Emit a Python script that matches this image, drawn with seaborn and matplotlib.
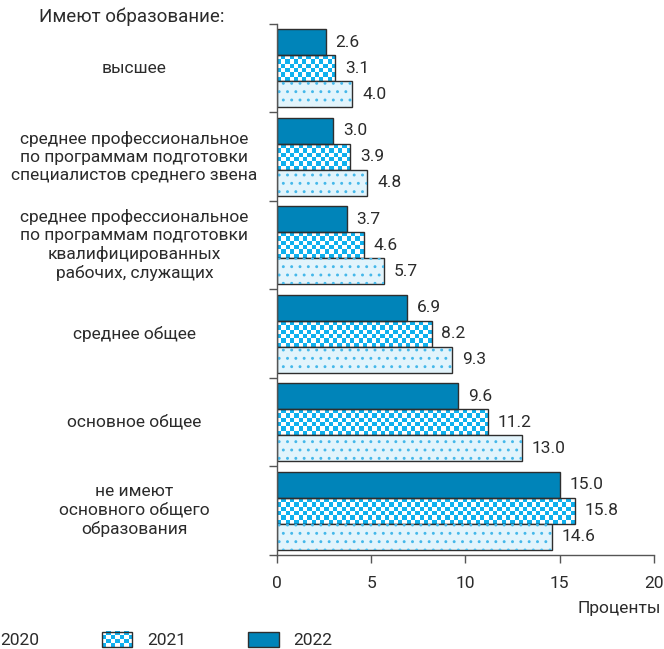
"""
Безработные по уровню образования, 2020-2022 (проценты).
"""

import matplotlib

matplotlib.use("Agg")

import matplotlib.pyplot as plt
import numpy as np
import pandas as pd
import seaborn as sns
from matplotlib.colors import ListedColormap, Normalize
from matplotlib.image import BboxImage
from matplotlib.legend_handler import HandlerBase
from matplotlib.patches import Rectangle
from matplotlib.transforms import Bbox, TransformedBbox


CATEGORIES = [
    "высшее",
    "среднее профессиональное\nпо программам подготовки\nспециалистов среднего звена",
    "среднее профессиональное\nпо программам подготовки\nквалифицированных\nрабочих, служащих",
    "среднее общее",
    "основное общее",
    "не имеют\nосновного общего\nобразования",
]
YEARS = ["2020", "2021", "2022"]
VALUES_2020 = [4.0, 4.8, 5.7, 9.3, 13.0, 14.6]
VALUES_2021 = [3.1, 3.9, 4.6, 8.2, 11.2, 15.8]
VALUES_2022 = [2.6, 3.0, 3.7, 6.9, 9.6, 15.0]
X_TICKS = [0, 5, 10, 15, 20]

DARK_BLUE = "#0084b9"
CHECK_BLUE = "#0fb0ee"
LIGHT_FILL = "#e2f4fc"
DOT_BLUE = "#45b8ea"
EDGE = "#2e2e2e"
TEXT = "#2b2b2b"
AXIS = "#555555"
FONT = ["Roboto", "DejaVu Sans"]
SIZE = 12.5

checker_cmap = ListedColormap(["white", CHECK_BLUE])


def checker(ny, nx):
    return np.indices((ny, nx)).sum(axis=0) % 2


class CheckerHandler(HandlerBase):
    def create_artists(self, legend, orig_handle, xdescent, ydescent, width, height, fontsize, trans):
        box = TransformedBbox(Bbox.from_bounds(-xdescent, -ydescent, width, height), trans)
        img = BboxImage(box, cmap=checker_cmap, norm=Normalize(0, 1), interpolation="nearest")
        img.set_data(checker(4, 7))
        outline = Rectangle((-xdescent, -ydescent), width, height, fc="none", ec=EDGE, lw=1, transform=trans)
        return [img, outline]


class DottedHandler(HandlerBase):
    def create_artists(self, legend, orig_handle, xdescent, ydescent, width, height, fontsize, trans):
        base = Rectangle((-xdescent, -ydescent), width, height, fc=LIGHT_FILL, ec=EDGE, lw=1, transform=trans)
        dots = Rectangle((-xdescent, -ydescent), width, height, fc="none", ec=DOT_BLUE, lw=0, hatch="..", transform=trans)
        return [base, dots]


def build_frame() -> pd.DataFrame:
    rows = []
    for year, values in zip(YEARS, [VALUES_2020, VALUES_2021, VALUES_2022]):
        for category, value in zip(CATEGORIES, values):
            rows.append({"category": category, "year": year, "value": value})
    return pd.DataFrame(rows)


def main() -> None:
    sns.set_style("white")
    plt.rcParams["font.family"] = FONT
    plt.rcParams["hatch.linewidth"] = 0.9

    df = build_frame()

    fig = plt.figure(figsize=(6.64, 6.49), dpi=100)
    ax = fig.add_axes([0.417, 0.145, 0.568, 0.818])

    sns.barplot(
        data=df,
        x="value",
        y="category",
        hue="year",
        order=CATEGORIES,
        hue_order=["2022", "2021", "2020"],
        palette={"2022": DARK_BLUE, "2021": CHECK_BLUE, "2020": LIGHT_FILL},
        saturation=1,
        width=0.88,
        edgecolor=EDGE,
        linewidth=1,
        orient="h",
        legend=False,
        ax=ax,
    )

    ax.set_xlim(0, 20)
    ax.set_ylim(len(CATEGORIES) - 0.5, -0.5)
    px_per_unit = ax.get_window_extent().width / 20

    bars_2022, bars_2021, bars_2020 = ax.containers[:3]

    # checkerboard fill for 2021
    for patch in bars_2021:
        x0, y0 = patch.get_x(), patch.get_y()
        w, h = patch.get_width(), patch.get_height()
        nx = max(1, int(round(w * px_per_unit / 4.3)))
        ax.imshow(
            checker(6, nx),
            cmap=checker_cmap,
            norm=Normalize(0, 1),
            extent=(x0, x0 + w, y0 + h, y0),
            aspect="auto",
            interpolation="nearest",
            zorder=patch.get_zorder() - 0.05,
        )
        patch.set_facecolor("none")

    # dotted fill for 2020
    for patch in bars_2020:
        ax.add_patch(
            Rectangle(
                (patch.get_x(), patch.get_y()),
                patch.get_width(),
                patch.get_height(),
                fc="none",
                ec=DOT_BLUE,
                lw=0,
                hatch="..",
                zorder=patch.get_zorder() + 0.05,
            )
        )

    ax.set_xlim(0, 20)
    ax.set_ylim(len(CATEGORIES) - 0.5, -0.5)

    for container in (bars_2022, bars_2021, bars_2020):
        ax.bar_label(container, fmt="%.1f", padding=7, fontsize=SIZE, color=TEXT)

    ax.set_xticks(X_TICKS)
    ax.set_xticklabels([str(t) for t in X_TICKS], fontsize=SIZE, color=TEXT)
    ax.set_yticks([])
    ax.set_yticks(np.arange(-0.5, len(CATEGORIES), 1), minor=True)
    ax.tick_params(axis="x", length=6, width=1, color=AXIS, direction="out", pad=9, bottom=True)
    ax.tick_params(axis="y", which="minor", length=6, width=1, color=AXIS, direction="out", left=True)
    ax.set_xlabel("")
    ax.set_ylabel("")

    sns.despine(ax=ax)
    for side in ("left", "bottom"):
        ax.spines[side].set_color(AXIS)
        ax.spines[side].set_linewidth(1)

    for i, label in enumerate(CATEGORIES):
        ax.text(-0.378, i, label, transform=ax.get_yaxis_transform(), ha="center", va="center",
                fontsize=SIZE, color=TEXT, linespacing=1.25)

    fig.text(132 / 664, 1 - 17 / 649, "Имеют образование:", ha="center", va="center", fontsize=13.5, color=TEXT)
    fig.text(661 / 664, 1 - 609 / 649, "Проценты", ha="right", va="center", fontsize=SIZE, color=TEXT)

    handles = [Rectangle((0, 0), 1, 1), Rectangle((0, 0), 1, 1), Rectangle((0, 0), 1, 1, fc=DARK_BLUE, ec=EDGE)]
    fig.legend(
        handles,
        YEARS,
        handler_map={handles[0]: DottedHandler(), handles[1]: CheckerHandler()},
        loc="center left",
        bbox_to_anchor=(-45 / 664, 1 - 640 / 649),
        ncol=3,
        frameon=False,
        fontsize=SIZE,
        labelcolor=TEXT,
        handlelength=1.75,
        handleheight=1.0,
        handletextpad=0.85,
        columnspacing=3.6,
        borderpad=0,
        borderaxespad=0,
    )

    fig.savefig("out.png", dpi=100)
    plt.close(fig)


if __name__ == "__main__":
    main()
